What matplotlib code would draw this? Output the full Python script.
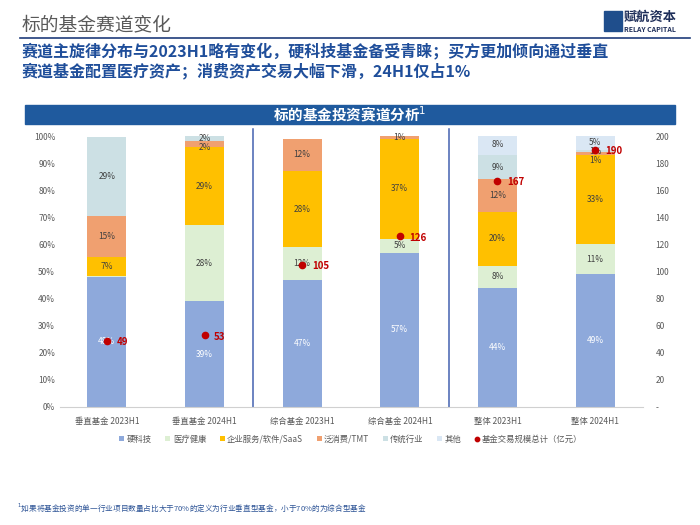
import numpy as np
import matplotlib.pyplot as plt
from matplotlib.patches import Rectangle

plt.rcParams['font.family'] = ['Noto Sans CJK SC', 'DejaVu Sans']

# data
categories = ['垂直基金 2023H1', '垂直基金 2024H1', '综合基金 2023H1',
              '综合基金 2024H1', '整体 2023H1', '整体 2024H1']
series_names = ['硬科技', '医疗健康', '企业服务/软件/SaaS', '泛消费/TMT', '传统行业', '其他']
hard_tech = [48, 39, 47, 57, 44, 49]
medical = [0.5, 28, 12, 5, 8, 11]
enterprise = [7, 29, 28, 37, 20, 33]
consumer = [15, 2, 12, 1, 12, 1]
traditional = [29, 2, 0, 0, 9, 1]
others = [0, 0, 0, 0, 8, 5]
deal_size = [49, 53, 105, 126, 167, 190]
dot_name = '基金交易规模总计（亿元）'

colors = ['#8EA9DB', '#DDEFD3', '#FFC000', '#F0A070', '#CCE0E4', '#DAE7F4']
navy = '#1F3C7A'

fig = plt.figure(figsize=(7, 5.25), dpi=100)

def fx(px):
    return px / 700

def fy(py):
    return 1 - py / 525

# header
fig.text(fx(22), fy(25), '标的基金赛道变化', fontsize=13.5, color='#595959', va='center')
fig.add_artist(plt.Line2D([fx(20), fx(690)], [fy(38), fy(38)], color=navy, lw=1.2))
fig.add_artist(Rectangle((fx(604), fy(31)), fx(18), 20 / 525, color='#1F4E8C'))
fig.text(fx(624), fy(17), '赋航资本', fontsize=9.5, fontweight='bold', color='#1F2F5A', va='center')
fig.text(fx(624), fy(29), 'RELAY CAPITAL', fontsize=5, fontweight='bold', color='#1F2F5A', va='center')

fig.text(fx(22), fy(51), '赛道主旋律分布与2023H1略有变化，硬科技基金备受青睐；买方更加倾向通过垂直',
         fontsize=11.5, fontweight='bold', color='#1F4E9A', va='center')
fig.text(fx(22), fy(71), '赛道基金配置医疗资产；消费资产交易大幅下滑，24H1仅占1%',
         fontsize=11.5, fontweight='bold', color='#1F4E9A', va='center')

# banner
fig.add_artist(Rectangle((fx(25), fy(124)), fx(650), 19 / 525, color='#1F5A9E'))
fig.text(0.5, fy(114.5), '标的基金投资赛道分析$^1$', fontsize=10.5, fontweight='bold',
         color='white', ha='center', va='center')

# chart
ax = fig.add_axes([fx(60), fy(407), fx(583), 271 / 525])
x = np.arange(len(categories))
stack = [hard_tech, medical, enterprise, consumer, traditional, others]
bottom = np.zeros(len(categories))
labels = [[] for _ in x]
for i, vals in enumerate(stack):
    v = np.array(vals, dtype=float) / 100
    ax.bar(x, v, 0.4, bottom=bottom, color=colors[i], label=series_names[i])
    for j in range(len(x)):
        if vals[j] >= 1:
            labels[j].append([bottom[j] + v[j] / 2, f'{vals[j]:.0f}%',
                              'white' if i == 0 else '#404040'])
    bottom += v

# push crowded labels apart (from the top down), like the reference does
gap = 9 / 271
for j in range(len(x)):
    lab = sorted(labels[j], key=lambda r: -r[0])
    for k in range(1, len(lab)):
        if lab[k - 1][0] - lab[k][0] < gap:
            lab[k][0] = lab[k - 1][0] - gap
    for yy, txt, c in lab:
        ax.text(x[j], yy, txt, ha='center', va='center', fontsize=6, color=c)

ax.set_xlim(-0.48, 5.49)
ax.set_ylim(0, 1)
ax.set_yticks(np.arange(0, 1.01, 0.1))
ax.set_yticklabels([f'{int(round(t * 100))}%' for t in np.arange(0, 1.01, 0.1)])
ax.set_xticks(x)
ax.set_xticklabels(categories)
ax.tick_params(axis='both', length=0, labelsize=6, colors='#595959')
ax.tick_params(axis='x', pad=7)
for s in ['top', 'right', 'left']:
    ax.spines[s].set_visible(False)
ax.spines['bottom'].set_color('#D0D0D0')

for sx in [1.5, 3.5]:
    ax.plot([sx, sx], [0, 1.025], color='#4462B0', lw=1.1, clip_on=False)

ax2 = ax.twinx()
ax2.set_ylim(0, 200)
ax2.plot(x, deal_size, 'o', color='#C00000', markersize=4.5, label=dot_name)
for j in range(len(x)):
    ax2.annotate(str(deal_size[j]), (x[j], deal_size[j]), xytext=(7, -1),
                 textcoords='offset points', fontsize=7, fontweight='bold',
                 color='#C00000', va='center')
ax2.set_yticks(np.arange(0, 201, 20))
ax2.set_yticklabels(['-'] + [str(t) for t in range(20, 201, 20)])
ax2.tick_params(axis='y', length=0, labelsize=6, colors='#595959', pad=9)
for s in ax2.spines.values():
    s.set_visible(False)

h1, l1 = ax.get_legend_handles_labels()
h2, l2 = ax2.get_legend_handles_labels()
fig.legend(h1 + h2, l1 + l2, loc='center', bbox_to_anchor=(fx(351), fy(439)), ncol=7,
           frameon=False, fontsize=6, handlelength=0.6, handleheight=0.6,
           handletextpad=0.3, columnspacing=1.6, labelcolor='#595959', markerscale=0.7)

fig.text(fx(17), fy(508), '$^1$如果将基金投资的单一行业项目数量占比大于70%的定义为行业垂直型基金，小于70%的为综合型基金',
         fontsize=5.5, color='#2F5597', va='center')

plt.savefig('out.png', dpi=100)
